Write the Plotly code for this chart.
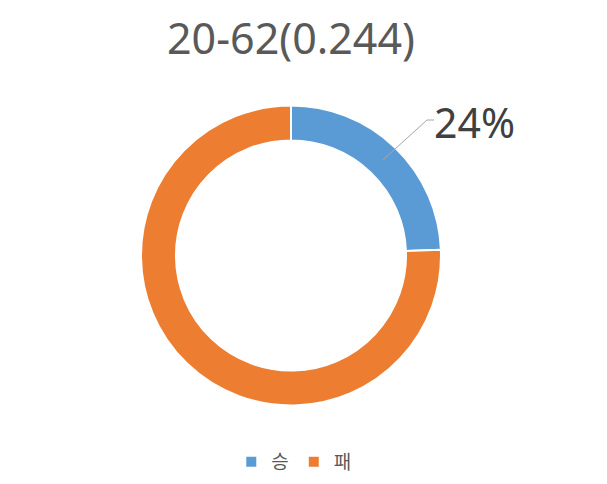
import math
import plotly.graph_objects as go

categories = ["승", "패"]
values = [20, 62]
colors = ["#5B9BD5", "#ED7D31"]
title_text = "20-62(0.244)"

W, H = 607, 484
cx, cy = 291, 255.5  # pixel center of the donut
R = 150.0
hole = 0.767

fig = go.Figure()
fig.add_trace(go.Pie(
    labels=categories,
    values=values,
    hole=hole,
    sort=False,
    direction="clockwise",
    rotation=0,
    marker=dict(colors=colors, line=dict(color="white", width=2)),
    textinfo="none",
    hoverinfo="label+value+percent",
    domain=dict(x=[(cx - R) / W, (cx + R) / W], y=[(H - cy - R) / H, (H - cy + R) / H]),
))

# label for the first slice with a leader line, positioned from data
total = sum(values)
frac_mid = values[0] / 2 / total
ang = 2 * math.pi * frac_mid  # clockwise from top
rmid = R * (1 + hole) / 2
x0 = cx + rmid * math.sin(ang)
y0 = cy - rmid * math.cos(ang)
x1, y1 = 427, 120
x2 = 434
pct = round(100 * values[0] / total)

def px(x):
    return x / W

def py(y):
    return 1 - y / H

fig.add_shape(type="line", xref="paper", yref="paper",
              x0=px(x0), y0=py(y0), x1=px(x1), y1=py(y1),
              line=dict(color="#A6A6A6", width=1))
fig.add_shape(type="line", xref="paper", yref="paper",
              x0=px(x1), y0=py(y1), x1=px(x2), y1=py(y1),
              line=dict(color="#A6A6A6", width=1))
fig.add_annotation(xref="paper", yref="paper", x=px(x2 - 2), y=py(122),
                   xanchor="left", yanchor="middle", showarrow=False,
                   text=f"{pct}%",
                   font=dict(size=41, color="#404040", family="Noto Sans, Noto Sans CJK KR"))

fig.update_layout(
    width=W, height=H,
    margin=dict(l=0, r=0, t=0, b=0),
    paper_bgcolor="white",
    plot_bgcolor="white",
    font=dict(family="Noto Sans, Noto Sans CJK KR, sans-serif", color="#595959"),
    title=dict(text=title_text, x=291 / W, xanchor="center", y=1 - 39 / H, yanchor="middle",
               font=dict(size=43, color="#595959")),
    showlegend=True,
    legend=dict(orientation="h", x=0.484, xanchor="center", y=1 - 462 / H, yanchor="middle",
                font=dict(size=19, color="#595959"), itemwidth=30, tracegroupgap=0),
)

fig.write_html("out.html", config={"displayModeBar": False},
               post_script="document.body.style.margin='0';")
